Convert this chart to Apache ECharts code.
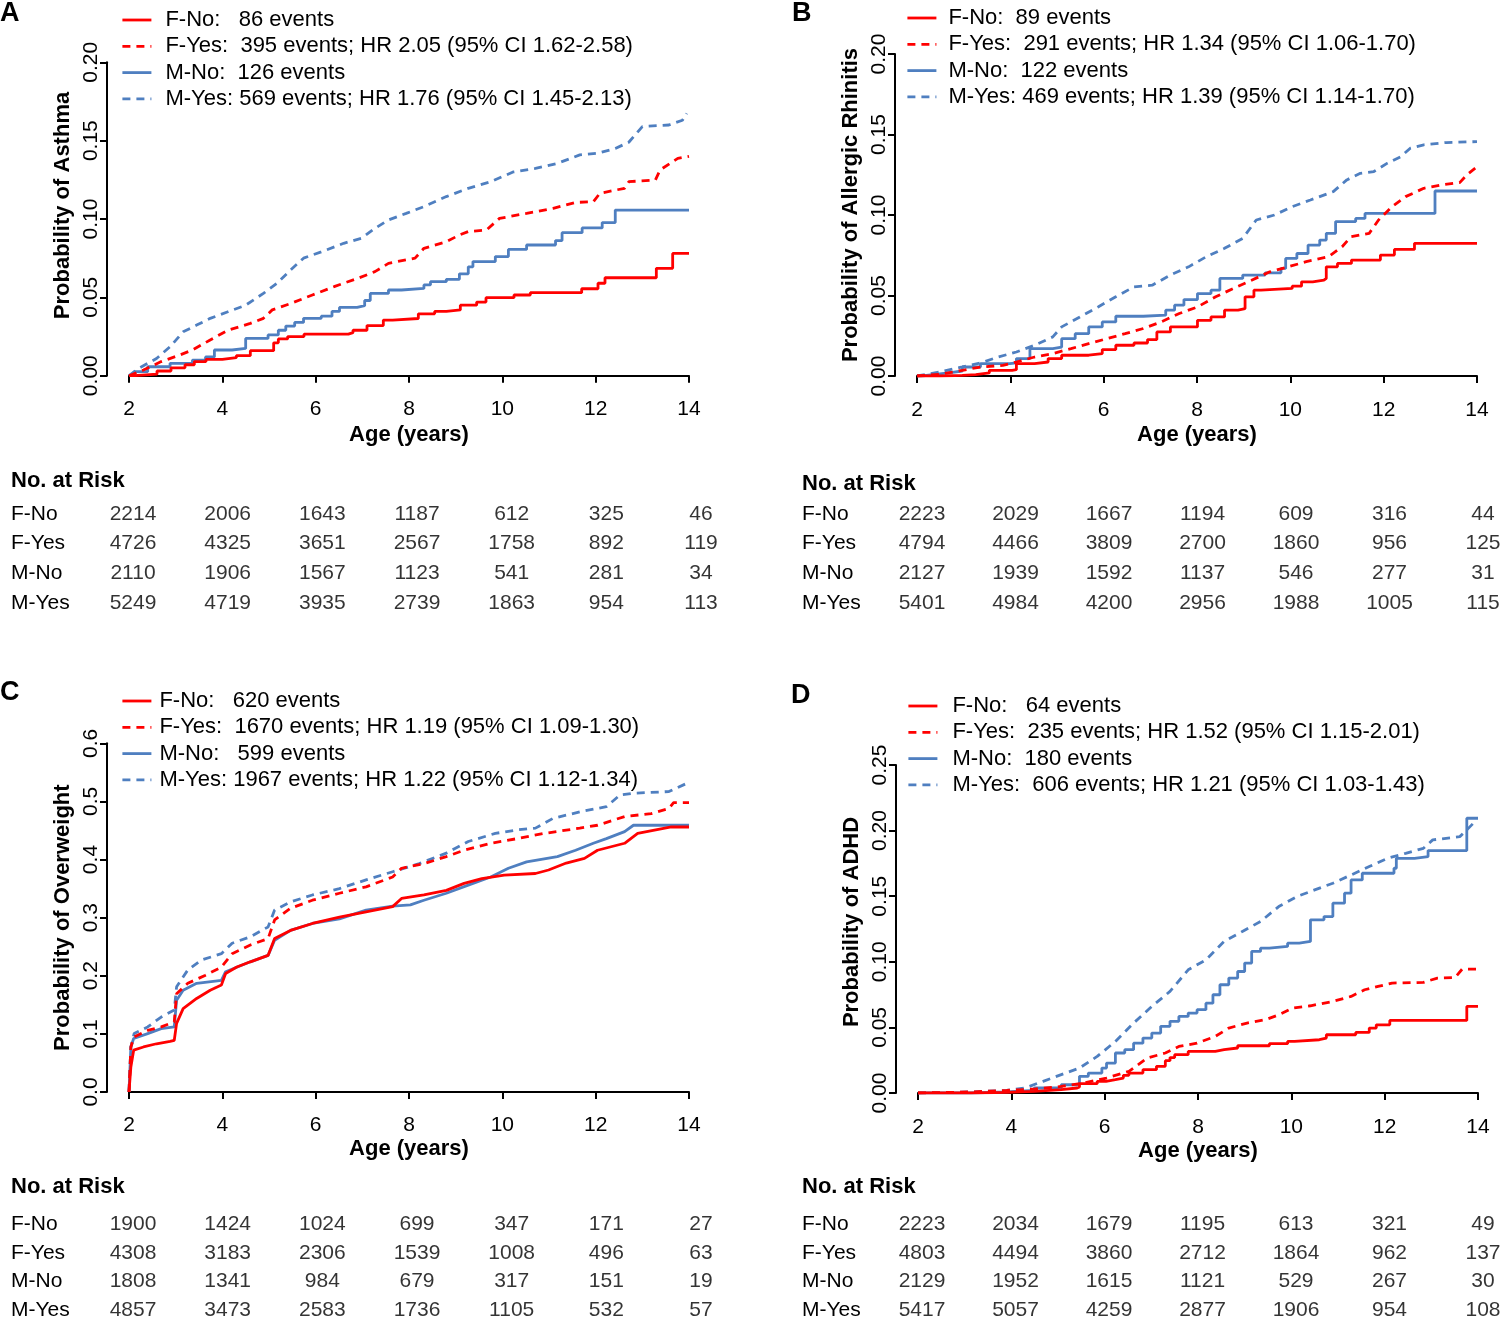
<!DOCTYPE html>
<html>
<head>
<meta charset="utf-8">
<script src="https://cdn.jsdelivr.net/npm/echarts@6/dist/echarts.min.js"></script>
<style>html,body{margin:0;padding:0;background:#fff}#c{width:1500px;height:1321px}</style>
</head>
<body>
<div id="c"></div>
<script>
// ---------- DATA ----------
const ageTicks = [2, 4, 6, 8, 10, 12, 14];
const groups = ['F-No', 'F-Yes', 'M-No', 'M-Yes'];

// Panel A: Asthma
const legendA = ['F-No:   86 events', 'F-Yes:  395 events; HR 2.05 (95% CI 1.62-2.58)', 'M-No:  126 events', 'M-Yes: 569 events; HR 1.76 (95% CI 1.45-2.13)'];
const asthmaFNo = [[2,0],[2.11,0.001],[2.6,0.003],[2.9,0.005],[3.2,0.007],[3.4,0.009],[3.65,0.0104],[4.0,0.0115],[4.3,0.0128],[4.6,0.016],[5.1,0.021],[5.2,0.0235],[5.4,0.025],[5.75,0.0265],[6.7,0.0275],[6.8,0.029],[7.1,0.032],[7.45,0.0355],[7.65,0.0365],[8.2,0.0395],[8.55,0.041],[8.8,0.042],[9.1,0.045],[9.45,0.047],[9.65,0.0498],[10.25,0.0515],[10.6,0.053],[11.7,0.0555],[12.05,0.059],[12.2,0.0625],[13.3,0.0685],[13.65,0.078],[14,0.078]];
const asthmaFYes = [[2,0],[2.31,0.0036],[2.69,0.009],[3.07,0.013],[3.36,0.0164],[3.74,0.0228],[4.12,0.029],[4.6,0.0334],[4.88,0.0366],[5.07,0.042],[5.46,0.046],[5.93,0.0515],[6.41,0.057],[6.89,0.062],[7.27,0.0664],[7.56,0.0717],[8.13,0.075],[8.32,0.0813],[8.8,0.0855],[9.08,0.0898],[9.27,0.092],[9.66,0.093],[9.94,0.1004],[10.52,0.1036],[11.09,0.1068],[11.57,0.1106],[11.95,0.111],[12.09,0.1164],[12.62,0.1196],[12.71,0.1238],[13.28,0.1249],[13.38,0.1313],[13.76,0.1387],[14,0.14]];
const asthmaMNo = [[2,0],[2.11,0.0026],[2.4,0.0057],[2.88,0.0079],[3.36,0.01],[3.64,0.012],[3.83,0.0164],[4.21,0.0174],[4.5,0.0238],[4.98,0.026],[5.2,0.029],[5.36,0.0317],[5.55,0.034],[5.74,0.0366],[6.12,0.038],[6.35,0.041],[6.51,0.0436],[6.89,0.0447],[7.05,0.048],[7.17,0.0525],[7.56,0.0547],[7.84,0.0557],[8.32,0.0579],[8.46,0.06],[8.8,0.0615],[9.08,0.065],[9.27,0.0695],[9.37,0.0728],[9.85,0.076],[10.13,0.0806],[10.52,0.0834],[11.14,0.0862],[11.28,0.0913],[11.71,0.0943],[12.14,0.0977],[12.42,0.1057],[14,0.1057]];
const asthmaMYes = [[2,0],[2.21,0.0047],[2.59,0.011],[2.88,0.0185],[3.16,0.028],[3.45,0.0323],[3.74,0.0366],[4.12,0.0408],[4.5,0.045],[4.88,0.0525],[5.17,0.059],[5.46,0.0674],[5.74,0.075],[6.12,0.079],[6.6,0.0845],[6.98,0.0877],[7.27,0.094],[7.56,0.0994],[7.94,0.1036],[8.32,0.1079],[8.8,0.1143],[9.27,0.1196],[9.75,0.1238],[10.23,0.13],[10.71,0.1323],[11.18,0.1355],[11.66,0.1409],[12.04,0.142],[12.42,0.145],[12.71,0.149],[13.0,0.159],[13.57,0.16],[13.86,0.163],[13.95,0.1674]];
const riskA = [[2214,2006,1643,1187,612,325,46],[4726,4325,3651,2567,1758,892,119],[2110,1906,1567,1123,541,281,34],[5249,4719,3935,2739,1863,954,113]];

// Panel B: Allergic Rhinitis
const legendB = ['F-No:  89 events', 'F-Yes:  291 events; HR 1.34 (95% CI 1.06-1.70)', 'M-No:  122 events', 'M-Yes: 469 events; HR 1.39 (95% CI 1.14-1.70)'];
const rhinitisFNo = [[2,0],[2.48,0.0004],[2.97,0.0008],[3.26,0.0019],[3.55,0.0035],[4.04,0.0039],[4.13,0.0077],[4.52,0.0087],[4.81,0.0108],[5.1,0.0129],[5.68,0.0139],[5.97,0.0164],[6.26,0.0191],[6.65,0.0205],[6.94,0.0226],[7.14,0.0274],[7.43,0.0305],[8.01,0.0346],[8.3,0.0367],[8.59,0.0409],[8.88,0.0419],[9.03,0.0492],[9.22,0.0533],[9.37,0.0544],[10.04,0.0558],[10.24,0.0585],[10.48,0.0595],[10.72,0.0606],[10.77,0.0678],[11.01,0.0699],[11.31,0.072],[11.93,0.0751],[12.23,0.0786],[12.66,0.0824],[14,0.0824]];
const rhinitisFYes = [[2,0],[2.48,0.001],[2.97,0.0035],[3.36,0.0056],[3.84,0.0066],[4.13,0.0087],[4.52,0.0118],[4.91,0.0139],[5.3,0.017],[5.68,0.0201],[6.07,0.0232],[6.46,0.0263],[6.85,0.0295],[7.23,0.0336],[7.62,0.0388],[8.01,0.0429],[8.4,0.0492],[8.78,0.0544],[9.17,0.0595],[9.56,0.0647],[9.95,0.0678],[10.34,0.071],[10.82,0.0741],[11.11,0.0803],[11.3,0.0865],[11.69,0.0886],[11.89,0.0969],[12.18,0.1052],[12.47,0.1114],[12.86,0.1166],[13.24,0.1187],[13.63,0.1201],[13.78,0.1249],[14,0.13]];
const rhinitisMNo = [[2,0],[2.1,0.001],[2.39,0.0019],[2.68,0.0031],[2.97,0.0056],[3.36,0.0077],[3.99,0.0081],[4.13,0.0108],[4.42,0.017],[4.91,0.018],[5.1,0.0232],[5.39,0.0263],[5.68,0.0305],[5.97,0.0336],[6.26,0.0371],[6.85,0.0378],[7.33,0.0409],[7.52,0.044],[7.72,0.0475],[8.01,0.0512],[8.3,0.0533],[8.49,0.0606],[8.98,0.0627],[9.46,0.0641],[9.8,0.0668],[9.9,0.073],[10.14,0.0761],[10.38,0.0813],[10.63,0.0844],[10.77,0.0886],[10.97,0.0959],[11.4,0.0979],[11.6,0.101],[13.1,0.1149],[14,0.1149]];
const rhinitisMYes = [[2,0],[2.48,0.0025],[2.97,0.0056],[3.36,0.0081],[3.74,0.0118],[4.13,0.0149],[4.52,0.0191],[4.91,0.0243],[5.1,0.0305],[5.49,0.0367],[5.88,0.0429],[6.26,0.0492],[6.65,0.0554],[7.04,0.0564],[7.43,0.0627],[7.82,0.0678],[8.2,0.0741],[8.59,0.0793],[8.98,0.0855],[9.27,0.0969],[9.66,0.1],[10.04,0.1052],[10.43,0.1093],[10.92,0.1145],[11.21,0.1218],[11.5,0.1259],[11.79,0.127],[12.08,0.1322],[12.37,0.1363],[12.57,0.1415],[12.86,0.1436],[13.34,0.145],[14,0.1456]];
const riskB = [[2223,2029,1667,1194,609,316,44],[4794,4466,3809,2700,1860,956,125],[2127,1939,1592,1137,546,277,31],[5401,4984,4200,2956,1988,1005,115]];

// Panel C: Overweight
const legendC = ['F-No:   620 events', 'F-Yes:  1670 events; HR 1.19 (95% CI 1.09-1.30)', 'M-No:   599 events', 'M-Yes: 1967 events; HR 1.22 (95% CI 1.12-1.34)'];
const overweightFNo = [[2,0],[2.04,0.043],[2.1,0.072],[2.31,0.0775],[2.59,0.083],[2.88,0.087],[2.97,0.089],[3.02,0.118],[3.16,0.1435],[3.45,0.161],[3.74,0.175],[3.98,0.184],[4.07,0.204],[4.31,0.215],[4.6,0.224],[4.98,0.235],[5.12,0.264],[5.46,0.278],[5.93,0.29],[6.51,0.301],[7.08,0.31],[7.65,0.319],[7.84,0.333],[8.32,0.339],[8.8,0.347],[9.18,0.359],[9.56,0.367],[10.04,0.373],[10.71,0.376],[10.99,0.382],[11.37,0.394],[11.76,0.402],[12.04,0.416],[12.33,0.422],[12.62,0.428],[12.9,0.445],[13.62,0.456],[14,0.456]];
const overweightFYes = [[2,0],[2.04,0.0775],[2.11,0.0947],[2.4,0.106],[2.69,0.112],[2.97,0.1206],[3.02,0.169],[3.26,0.187],[3.64,0.201],[3.98,0.215],[4.21,0.238],[4.6,0.253],[4.98,0.264],[5.12,0.296],[5.46,0.316],[5.93,0.33],[6.51,0.342],[7.08,0.353],[7.65,0.37],[7.84,0.385],[8.32,0.393],[8.8,0.405],[9.18,0.416],[9.75,0.428],[10.32,0.436],[10.9,0.445],[11.66,0.454],[12.04,0.459],[12.62,0.474],[13.19,0.479],[13.57,0.488],[13.67,0.498],[14,0.498]];
const overweightMNo = [[2,0],[2.04,0.0775],[2.1,0.092],[2.4,0.1005],[2.69,0.109],[2.97,0.112],[3.02,0.158],[3.16,0.175],[3.45,0.187],[3.98,0.192],[4.07,0.207],[4.6,0.224],[4.98,0.235],[5.12,0.261],[5.46,0.278],[5.93,0.29],[6.51,0.298],[7.08,0.313],[7.65,0.32],[8.03,0.322],[8.32,0.33],[8.8,0.342],[9.27,0.356],[9.75,0.37],[10.13,0.385],[10.52,0.396],[11.18,0.405],[11.57,0.416],[11.95,0.428],[12.23,0.436],[12.62,0.448],[12.81,0.459],[14,0.459]];
const overweightMYes = [[2,0],[2.04,0.0775],[2.11,0.1005],[2.4,0.112],[2.69,0.129],[2.97,0.141],[3.02,0.181],[3.26,0.21],[3.55,0.227],[3.98,0.238],[4.21,0.256],[4.6,0.267],[4.98,0.284],[5.12,0.313],[5.46,0.327],[5.93,0.339],[6.51,0.35],[7.08,0.365],[7.65,0.379],[8.22,0.393],[8.8,0.411],[9.27,0.431],[9.85,0.445],[10.32,0.451],[10.71,0.454],[11.09,0.471],[11.66,0.482],[12.23,0.491],[12.52,0.511],[12.81,0.514],[13.57,0.517],[13.95,0.531]];
const riskC = [[1900,1424,1024,699,347,171,27],[4308,3183,2306,1539,1008,496,63],[1808,1341,984,679,317,151,19],[4857,3473,2583,1736,1105,532,57]];

// Panel D: ADHD
const legendD = ['F-No:   64 events', 'F-Yes:  235 events; HR 1.52 (95% CI 1.15-2.01)', 'M-No:  180 events', 'M-Yes:  606 events; HR 1.21 (95% CI 1.03-1.43)'];
const adhdFNo = [[2,0],[3.13,0.0005],[3.9,0.0013],[4.49,0.0025],[5.07,0.0038],[5.41,0.0046],[5.46,0.0071],[5.84,0.0089],[6.03,0.0102],[6.23,0.0114],[6.4,0.0135],[6.52,0.0152],[6.82,0.0178],[7.11,0.0203],[7.3,0.0246],[7.4,0.027],[7.5,0.0292],[7.79,0.0317],[8.37,0.033],[8.56,0.0343],[8.85,0.036],[9.53,0.0376],[9.92,0.0393],[10.07,0.0406],[10.6,0.0419],[10.75,0.0444],[11.38,0.0462],[11.67,0.0495],[11.82,0.052],[12.11,0.0553],[13.76,0.066],[14,0.066]];
const adhdFYes = [[2,0],[3.13,0.0008],[3.9,0.002],[4.49,0.003],[5.07,0.005],[5.55,0.0076],[6.04,0.0114],[6.52,0.0165],[6.91,0.0266],[7.3,0.0305],[7.59,0.0355],[7.98,0.038],[8.37,0.0431],[8.66,0.0495],[9.05,0.0533],[9.44,0.0558],[9.73,0.0596],[10.02,0.0647],[10.41,0.0665],[10.89,0.0698],[11.28,0.0736],[11.57,0.0787],[11.86,0.0812],[12.16,0.0838],[12.83,0.0843],[13.13,0.0876],[13.51,0.088],[13.66,0.0944],[14,0.0944]];
const adhdMNo = [[2,0],[3.13,0.0008],[3.9,0.002],[4.49,0.0038],[5.07,0.0063],[5.46,0.0127],[5.65,0.0152],[5.94,0.019],[6.04,0.0228],[6.23,0.0305],[6.43,0.033],[6.62,0.038],[6.82,0.0419],[7.01,0.0457],[7.2,0.0508],[7.4,0.0546],[7.59,0.0584],[7.79,0.0609],[7.98,0.0635],[8.17,0.0685],[8.32,0.0749],[8.47,0.0825],[8.66,0.0876],[8.85,0.0926],[9.0,0.099],[9.15,0.1079],[9.34,0.1104],[9.53,0.1117],[9.92,0.1142],[10.17,0.1155],[10.41,0.132],[10.7,0.1345],[10.89,0.1447],[11.14,0.1523],[11.28,0.1624],[11.52,0.1675],[12.2,0.1713],[12.25,0.1789],[12.64,0.1802],[12.93,0.1848],[13.76,0.2094],[14,0.2094]];
const adhdMYes = [[2,0],[3.13,0.0008],[3.9,0.002],[4.29,0.0038],[4.68,0.0089],[5.07,0.014],[5.46,0.019],[5.84,0.0279],[6.23,0.0393],[6.62,0.0533],[7.01,0.066],[7.4,0.0774],[7.79,0.0939],[8.17,0.1015],[8.56,0.1155],[8.95,0.1231],[9.34,0.1307],[9.73,0.1421],[10.12,0.1497],[10.5,0.1548],[10.89,0.1599],[11.28,0.1662],[11.67,0.1726],[12.06,0.1789],[12.45,0.1827],[12.83,0.1865],[13.03,0.1929],[13.61,0.1954],[13.76,0.2005],[13.9,0.2056],[14,0.2056]];
const riskD = [[2223,2034,1679,1195,613,321,49],[4803,4494,3860,2712,1864,962,137],[2129,1952,1615,1121,529,267,30],[5417,5057,4259,2877,1906,954,108]];

// ---------- LAYOUT / STYLE ----------
const FONT = "'Liberation Sans', Arial, Helvetica, sans-serif";
const RED = '#FF0000', BLUE = '#4F7FC0';
const panels = [
  { letter: 'A', ytitle: 'Probability of Asthma', ymax: 0.2, yint: 0.05, dec: 2,
    curves: [asthmaFNo, asthmaFYes, asthmaMNo, asthmaMYes], legend: legendA, risk: riskA, solidStep: true,
    grid: { left: 129, top: 62.3, width: 560, height: 313.4 }, xOff: 12.5, yOff: 22, nameGap: 36, ytShift: 27,
    leg: { left: 121, top: 9, pad: 9 }, letterPos: [0, 0], riskTitle: [11, 470],
    riskGrid: { left: 133, top: 514, width: 568, height: 89 } },
  { letter: 'B', ytitle: 'Probability of Allergic Rhinitis', ymax: 0.2, yint: 0.05, dec: 2,
    curves: [rhinitisFNo, rhinitisFYes, rhinitisMNo, rhinitisMYes], legend: legendB, risk: riskB, solidStep: true,
    grid: { left: 917, top: 54, width: 560, height: 322 }, xOff: 12.6, yOff: 22, nameGap: 35, ytShift: 20,
    leg: { left: 906, top: 7, pad: 7 }, letterPos: [792, 0], riskTitle: [802, 473],
    riskGrid: { left: 922, top: 514, width: 561, height: 89 } },
  { letter: 'C', ytitle: 'Probability of Overweight', ymax: 0.6, yint: 0.1, dec: 1,
    curves: [overweightFNo, overweightFYes, overweightMNo, overweightMYes], legend: legendC, risk: riskC, solidStep: false,
    grid: { left: 129, top: 743.3, width: 560, height: 348.7 }, xOff: 12, yOff: 22, nameGap: 34, ytShift: 0,
    leg: { left: 121, top: 690, pad: 3 }, letterPos: [0, 679], riskTitle: [11, 1176],
    riskGrid: { left: 133, top: 1224, width: 568, height: 88 } },
  { letter: 'D', ytitle: 'Probability of ADHD', ymax: 0.25, yint: 0.05, dec: 2,
    curves: [adhdFNo, adhdFYes, adhdMNo, adhdMYes], legend: legendD, risk: riskD, solidStep: true,
    grid: { left: 918, top: 765, width: 560, height: 328 }, xOff: 13, yOff: 22, nameGap: 34, ytShift: 14,
    leg: { left: 907, top: 695, pad: 10 }, letterPos: [791, 682], riskTitle: [802, 1176],
    riskGrid: { left: 922, top: 1224, width: 561, height: 88 } }
];
const curveStyles = [
  { color: RED, type: 'solid' },
  { color: RED, type: [8, 6] },
  { color: BLUE, type: 'solid' },
  { color: BLUE, type: [8, 6] }
];

const grids = [], xAxes = [], yAxes = [], series = [], legends = [], titles = [];
panels.forEach((p, i) => {
  const gi = grids.length;
  grids.push(p.grid);
  xAxes.push({
    gridIndex: gi, type: 'value', min: 2, max: 14, interval: 2, offset: p.xOff,
    axisLine: { show: true, lineStyle: { color: '#000', width: 2 } },
    axisTick: { show: true, length: 7, lineStyle: { color: '#000', width: 2 } },
    axisLabel: { color: '#000', fontSize: 21, fontFamily: FONT, margin: 11 },
    splitLine: { show: false },
    name: 'Age (years)', nameLocation: 'middle', nameGap: p.nameGap,
    nameTextStyle: { color: '#000', fontSize: 22, fontWeight: 'bold', fontFamily: FONT }
  });
  yAxes.push({
    gridIndex: gi, type: 'value', min: 0, max: p.ymax, interval: p.yint, offset: p.yOff,
    axisLine: { show: true, lineStyle: { color: '#000', width: 2 } },
    axisTick: { show: true, length: 7, lineStyle: { color: '#000', width: 2 } },
    axisLabel: { color: '#000', fontSize: 21, fontFamily: FONT, rotate: 90, margin: 5,
      showMinLabel: true, showMaxLabel: true, formatter: v => v.toFixed(p.dec) },
    splitLine: { show: false },
    name: p.ytitle, nameLocation: 'middle', nameGap: 33,
    nameTextStyle: { color: '#000', fontSize: 22, fontWeight: 'bold', fontFamily: FONT,
      padding: [0, 0, 0, p.ytShift] }
  });
  p.curves.forEach((d, k) => {
    const st = curveStyles[k];
    series.push({
      type: 'line', name: p.legend[k], xAxisIndex: gi, yAxisIndex: gi, data: d,
      symbol: 'none', showSymbol: false, silent: true,
      step: (k % 2 === 0 && p.solidStep) ? 'end' : false,
      lineStyle: { color: st.color, width: 2.8, type: st.type },
      itemStyle: { color: st.color }, z: 4 - k
    });
  });
  legends.push({
    data: p.legend, orient: 'vertical', left: p.leg.left, top: p.leg.top, padding: 0,
    itemWidth: 29, itemHeight: 14, itemGap: 4.3, selectedMode: false,
    itemStyle: { opacity: 0, borderWidth: 0 },
    lineStyle: { width: 2.8 },
    textStyle: { color: '#000', fontSize: 22, fontFamily: FONT, lineHeight: 22, padding: [0, 0, 0, p.leg.pad] }
  });
  // risk table
  const ri = grids.length;
  grids.push(p.riskGrid);
  xAxes.push({ gridIndex: ri, type: 'value', min: 2, max: 14, show: false });
  yAxes.push({
    gridIndex: ri, type: 'category', data: groups, inverse: true, boundaryGap: false,
    axisLine: { show: false }, axisTick: { show: false }, splitLine: { show: false },
    axisLabel: { color: '#000', fontSize: 21, fontFamily: FONT, align: 'left',
      margin: p.riskGrid.left - p.riskTitle[0] }
  });
  const rdata = [];
  groups.forEach((g, r) => ageTicks.forEach((t, c) => rdata.push([t, g, p.risk[r][c]])));
  series.push({
    type: 'scatter', xAxisIndex: ri, yAxisIndex: ri, data: rdata, silent: true,
    symbol: 'circle', symbolSize: 2, itemStyle: { color: 'rgba(0,0,0,0)' },
    label: { show: true, position: 'inside', color: '#000', fontSize: 21, fontFamily: FONT,
      formatter: q => String(q.value[2]) }
  });
  titles.push({ text: p.letter, left: p.letterPos[0], top: p.letterPos[1], padding: 0,
    textStyle: { color: '#000', fontSize: 27, fontWeight: 'bold', fontFamily: FONT } });
  titles.push({ text: 'No. at Risk', left: p.riskTitle[0], top: p.riskTitle[1], padding: 0,
    textStyle: { color: '#000', fontSize: 22, fontWeight: 'bold', fontFamily: FONT } });
});

const chart = echarts.init(document.getElementById('c'), null, { renderer: 'canvas' });
chart.setOption({
  animation: false,
  backgroundColor: '#fff',
  title: titles,
  legend: legends,
  grid: grids,
  xAxis: xAxes,
  yAxis: yAxes,
  series: series
});
</script>
</body>
</html>
